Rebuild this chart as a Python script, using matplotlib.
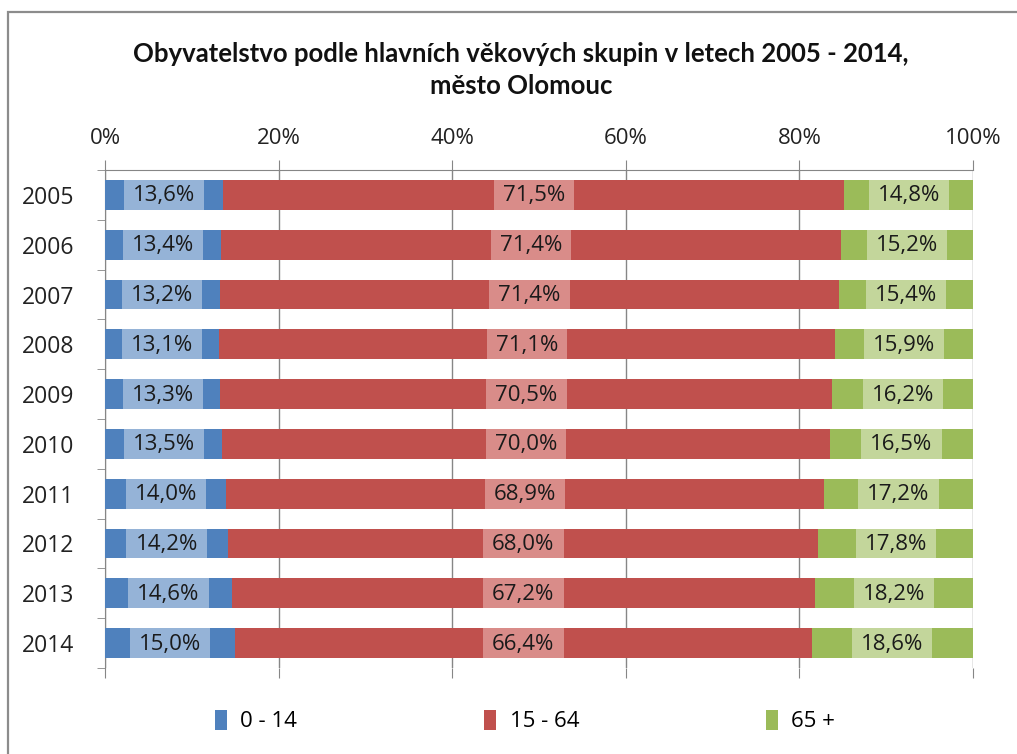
import matplotlib
matplotlib.use("Agg")
import matplotlib.pyplot as plt
from matplotlib.patches import Rectangle
import numpy as np

years = ["2005", "2006", "2007", "2008", "2009", "2010", "2011", "2012", "2013", "2014"]
age_0_14 = [13.6, 13.4, 13.2, 13.1, 13.3, 13.5, 14.0, 14.2, 14.6, 15.0]
age_15_64 = [71.5, 71.4, 71.4, 71.1, 70.5, 70.0, 68.9, 68.0, 67.2, 66.4]
age_65 = [14.8, 15.2, 15.4, 15.9, 16.2, 16.5, 17.2, 17.8, 18.2, 18.6]
series_names = ["0 - 14", "15 - 64", "65 +"]
xticklabels = ["0%", "20%", "40%", "60%", "80%", "100%"]

colors = ["#4F81BD", "#C0504D", "#9BBB59"]
label_bg = ["#95B3D7", "#D98C89", "#C3D69B"]

plt.rcParams['font.family'] = ['Open Sans', 'DejaVu Sans']

W, H = 1017, 754
fig = plt.figure(figsize=(W / 100, H / 100), dpi=100)
fig.patches.append(Rectangle((7.5 / W, -0.1), 1.2, 1.1 - 12.5 / H, transform=fig.transFigure,
                             fill=False, edgecolor="#8C8C8C", linewidth=1.6))

ax = fig.add_axes([105 / W, 1 - 668 / H, 868 / W, 498 / H])

data = np.array([age_0_14, age_15_64, age_65])
totals = data.sum(axis=0)
shares = data / totals * 100
y = np.arange(len(years))
bar_h = 0.6
left = np.zeros(len(years))
handles = []
texts = []
for i in range(3):
    h = ax.barh(y, shares[i], left=left, height=bar_h, color=colors[i], zorder=3,
                label=series_names[i])
    handles.append(h)
    for j in range(len(years)):
        cx = left[j] + shares[i][j] / 2
        t = ax.text(cx, y[j] + 0.02, f"{data[i][j]:.1f}%".replace(".", ","), ha="center", va="center",
                    fontsize=16, color="#1a1a1a", zorder=5)
        texts.append((t, i, j, cx))
    left = left + shares[i]

ax.set_xlim(0, 100)
ax.set_ylim(len(years) - 0.5, -0.5)
ax.xaxis.tick_top()
ax.set_xticks(np.arange(0, 101, 20))
ax.set_xticklabels(xticklabels, fontsize=16, color="#222222")
ax.tick_params(axis="x", which="both", top=True, bottom=True, direction="out",
               length=7, color="#868686", pad=8, labelbottom=False)
ax.grid(axis="x", color="#868686", linewidth=1, zorder=0)
ax.set_yticks(y)
ax.set_yticklabels(years, fontsize=16.5, color="#222222")
ax.set_yticks(np.arange(len(years) + 1) - 0.5, minor=True)
ax.tick_params(axis="y", which="major", length=0, pad=22)
ax.tick_params(axis="y", which="minor", length=6, color="#868686", direction="out")
for s in ["right", "bottom"]:
    ax.spines[s].set_visible(False)
ax.spines["top"].set_color("#868686")
ax.spines["left"].set_color("#868686")

fig.text(521 / W, 1 - 70 / H, "Obyvatelstvo podle hlavních věkových skupin v letech 2005 - 2014,\nměsto Olomouc",
         ha="center", va="center", fontsize=18.5, fontweight="bold", linespacing=1.45, color="#111111",
         family=["Lato", "DejaVu Sans"])

leg = fig.legend(handles=handles, labels=series_names, loc="center", bbox_to_anchor=(525 / W, 1 - 721 / H),
                 ncol=3, frameon=False, fontsize=16, handlelength=0.55, handleheight=1.0,
                 columnspacing=8.4, handletextpad=0.6)

# label background boxes sized from the rendered text
fig.canvas.draw()
renderer = fig.canvas.get_renderer()
px_per_unit = (868 / 100.0)
for t, i, j, cx in texts:
    bb = t.get_window_extent(renderer)
    wdata = (bb.width + 18) / px_per_unit
    ax.add_patch(Rectangle((cx - wdata / 2, y[j] - bar_h / 2), wdata, bar_h,
                           facecolor=label_bg[i], edgecolor="none", zorder=4))

fig.savefig("out.png", dpi=100)
